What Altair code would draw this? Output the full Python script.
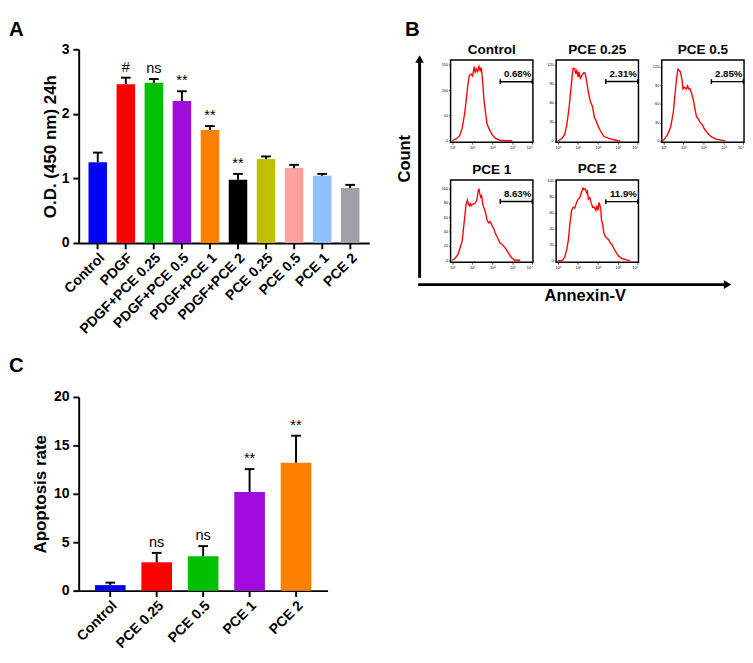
import altair as alt
import pandas as pd

FONT = "Liberation Sans"

panel_letters = ["A", "B", "C"]

# ---------------- Panel A data ----------------
a_groups = ["Control", "PDGF", "PDGF+PCE 0.25", "PDGF+PCE 0.5", "PDGF+PCE 1",
            "PDGF+PCE 2", "PCE 0.25", "PCE 0.5", "PCE 1", "PCE 2"]
a_means = [1.25, 2.46, 2.48, 2.20, 1.75, 0.98, 1.30, 1.16, 1.04, 0.85]
a_err_top = [1.40, 2.56, 2.54, 2.35, 1.81, 1.07, 1.34, 1.21, 1.07, 0.90]
a_colors = ["#0000FF", "#FF0000", "#00C000", "#A20BDE", "#FF8000",
            "#000000", "#BFBF00", "#FFA0A0", "#90C0FF", "#A0A0A8"]
a_marks = ["", "#", "ns", "**", "**", "**", "", "", "", ""]
a_yticks = [0, 1, 2, 3]

# ---------------- Panel C data ----------------
c_groups = ["Control", "PCE 0.25", "PCE 0.5", "PCE 1", "PCE 2"]
c_means = [0.57, 2.93, 3.54, 10.18, 13.2]
c_err_top = [0.83, 3.9, 4.6, 12.55, 16.0]
c_colors = ["#0000FF", "#FF0000", "#00C000", "#A20BDE", "#FF8000"]
c_marks = ["", "ns", "ns", "**", "**"]
c_yticks = [0, 5, 10, 15, 20]

# ---------------- Panel B data (flow histograms, x = log10 Annexin-V) ----------------
h_names = ["Control", "PCE 0.25", "PCE 0.5", "PCE 1", "PCE 2"]
h_pct = ["0.68%", "2.31%", "2.85%", "8.63%", "11.9%"]
h_gate_y = [117, 94, 96, 82, 74]
h_ydom = [[-3, 160], [-2, 128], [-2, 131], [-3, 112], [-2, 101]]
h_yticks = [[0, 50, 100, 150], [0, 30, 60, 90, 120], [0, 30, 60, 90, 120],
            [0, 20, 40, 60, 80, 100], [0, 20, 40, 60, 80, 100]]
gate_x1 = 2.4
gate_x2 = 4.0

ctrl_x = [0, 0.21, 0.37, 0.5, 0.61, 0.69, 0.77, 0.85, 0.94, 1.02, 1.10, 1.15, 1.21, 1.27,
          1.34, 1.40, 1.45, 1.52, 1.58, 1.66, 1.74, 1.85, 1.98, 2.15, 2.39, 2.63, 3.0]
ctrl_y = [0, 4, 10, 25, 51, 77, 106, 129, 132, 128, 147, 136, 142, 137,
          147, 139, 145, 119, 83, 57, 33, 23, 13, 5, 1, 0, 0]
p025_x = [0, 0.21, 0.34, 0.45, 0.56, 0.66, 0.73, 0.77, 0.85, 0.90, 0.95, 1.02, 1.06, 1.13,
          1.21, 1.31, 1.37, 1.45, 1.53, 1.63, 1.74, 1.82, 1.90, 2.02, 2.15, 2.31, 2.55, 2.79, 3.11]
p025_y = [0, 4, 10, 25, 51, 83, 106, 115, 114, 106, 111, 101, 109, 99,
          104, 108, 107, 93, 77, 62, 54, 38, 33, 23, 15, 7, 4, 2, 0]
p05_x = [-0.05, 0.05, 0.21, 0.37, 0.5, 0.58, 0.66, 0.73, 0.79, 0.85, 0.94, 0.98, 1.05, 1.15,
         1.21, 1.27, 1.34, 1.42, 1.5, 1.58, 1.66, 1.74, 1.82, 1.95, 2.06, 2.23, 2.39, 2.63, 2.95, 3.1]
p05_y = [0, 3, 10, 23, 47, 74, 101, 116, 114, 112, 98, 84, 87, 84,
         89, 84, 84, 76, 66, 52, 39, 36, 31, 26, 19, 12, 7, 3, 1, 0]
p1_x = [0, 0.13, 0.29, 0.40, 0.5, 0.56, 0.63, 0.69, 0.76, 0.81, 0.85, 0.90, 0.95, 1.02, 1.10,
        1.18, 1.24, 1.29, 1.34, 1.37, 1.42, 1.47, 1.53, 1.60, 1.66, 1.74, 1.82, 1.90, 1.98,
        2.06, 2.15, 2.27, 2.39, 2.5, 2.63, 2.79, 2.95, 3.11, 3.4]
p1_y = [0, 2, 8, 18, 27, 43, 61, 78, 84, 78, 76, 79, 76, 78, 79,
        81, 85, 96, 100, 94, 88, 90, 78, 72, 67, 56, 52, 54, 49,
        45, 38, 31, 24, 22, 18, 11, 4, 0, 0]
p2_x = [0, 0.21, 0.34, 0.45, 0.53, 0.61, 0.69, 0.77, 0.85, 0.94, 1.02, 1.10, 1.18, 1.26,
        1.31, 1.37, 1.44, 1.48, 1.53, 1.60, 1.66, 1.74, 1.82, 1.90, 1.95, 2.02, 2.06, 2.15,
        2.18, 2.23, 2.31, 2.39, 2.47, 2.55, 2.63, 2.71, 2.79, 2.92, 3.03, 3.19, 3.44, 3.6]
p2_y = [0, 0, 4, 14, 26, 47, 63, 67, 66, 73, 77, 79, 85, 91,
        89, 90, 85, 87, 77, 79, 73, 67, 67, 63, 69, 63, 73, 65,
        51, 47, 34, 30, 28, 26, 22, 20, 16, 10, 6, 3, 1, 0]
h_xs = [ctrl_x, p025_x, p05_x, p1_x, p2_x]
h_ys = [ctrl_y, p025_y, p05_y, p1_y, p2_y]


def letter_mark(letter, dx, dy):
    return alt.Chart(pd.DataFrame({"letter": [letter]})).mark_text(
        align="left", baseline="top", fontSize=21, fontWeight="bold", font=FONT,
        color="black").encode(x=alt.value(dx), y=alt.value(dy), text="letter:N")


# ---------------- helpers ----------------
def bar_panel(groups, means, errs, colors, marks, ymax, yticks, ytitle, width, height,
              letter, letter_dx, letter_dy, title_pad):
    gf = "grp" + letter
    df = pd.DataFrame({gf: groups, "mean": means, "err": errs, "mark": marks})
    xenc = alt.X(gf, type="nominal", sort=groups,
                 scale=alt.Scale(paddingInner=0.34, paddingOuter=0.35),
                 axis=alt.Axis(title=None, labelAngle=-45, labelFontSize=14.5,
                               labelFontWeight="bold", labelColor="black", labelFont=FONT,
                               domainColor="black", domainWidth=2, tickColor="black",
                               tickWidth=2, tickSize=6, labelPadding=2))
    ysc = alt.Scale(domain=[0, ymax], nice=False)
    yax = alt.Axis(values=yticks, title=ytitle, grid=False, domainColor="black",
                   domainWidth=2, tickColor="black", tickWidth=2, tickSize=6,
                   labelFontSize=14.5, labelFontWeight="bold", labelColor="black",
                   labelFont=FONT, labelPadding=4, titleFont=FONT, titleFontSize=17.5,
                   titleFontWeight="bold", titleColor="black", titlePadding=title_pad)

    def ye(field):
        return alt.Y(field, type="quantitative", scale=ysc, axis=yax)

    base = alt.Chart(df).encode(x=xenc)
    bars = base.mark_bar().encode(
        y=ye("mean"),
        color=alt.Color(gf, type="nominal", scale=alt.Scale(domain=groups, range=colors),
                        legend=None))
    err = base.mark_rule(color="black", strokeWidth=2).encode(y=ye("mean"), y2="err")
    cap = base.mark_tick(color="black", thickness=2, size=10, opacity=1).encode(y=ye("err"))
    txt = base.mark_text(baseline="bottom", dy=-3, fontSize=15, font=FONT,
                         color="black").encode(y=ye("err"), text="mark:N")
    return alt.layer(bars, err, cap, txt, letter_mark(letter, letter_dx, letter_dy)).properties(
        width=width, height=height)


def hist_panel(i):
    df = pd.DataFrame({"logx": h_xs[i], "count": h_ys[i]})
    gdf = pd.DataFrame({"x1": [gate_x1], "x2": [gate_x2], "y": [h_gate_y[i]], "label": [h_pct[i]]})
    xsc = alt.Scale(domain=[-0.08, 4.03], nice=False, zero=False)
    ysc = alt.Scale(domain=h_ydom[i], nice=False, zero=False)
    xax = alt.Axis(values=[0, 1, 2, 3, 4],
                   labelExpr="'10' + ['\u2070','\u00b9','\u00b2','\u00b3','\u2074'][datum.value]",
                   title=None, grid=False, domain=False, tickSize=2, tickWidth=0.7,
                   tickColor="black", labelFontSize=4, labelPadding=1, labelColor="black",
                   labelFont=FONT)
    yax = alt.Axis(values=h_yticks[i], title=None, grid=False, domain=False, tickSize=2,
                   tickWidth=0.7, tickColor="black", labelFontSize=4, labelPadding=1,
                   labelColor="black", labelFont=FONT)
    line = alt.Chart(df).mark_line(color="#FF0000", strokeWidth=1.4).encode(
        x=alt.X("logx:Q", scale=xsc, axis=xax), y=alt.Y("count:Q", scale=ysc, axis=yax))
    gate = alt.Chart(gdf).mark_rule(color="black", strokeWidth=1.5).encode(
        x=alt.X("x1:Q", scale=xsc, axis=xax), x2="x2:Q", y=alt.Y("y:Q", scale=ysc, axis=yax))
    ends = alt.Chart(gdf).transform_fold(["x1", "x2"], as_=["end", "xv"]).mark_tick(
        color="black", orient="vertical", size=5, thickness=1.5, opacity=1).encode(
        x=alt.X("xv:Q", scale=xsc, axis=xax), y=alt.Y("y:Q", scale=ysc, axis=yax))
    lab = alt.Chart(gdf).mark_text(align="right", baseline="bottom", dy=-3, dx=-1,
                                   fontSize=10, fontWeight="bold", font=FONT,
                                   color="black").encode(
        x=alt.X("x2:Q", scale=xsc, axis=xax), y=alt.Y("y:Q", scale=ysc, axis=yax),
        text="label:N")
    return alt.layer(line, gate, ends, lab).properties(
        width=85, height=85,
        view=alt.ViewBackground(stroke="black", strokeWidth=1.5),
        title=alt.TitleParams(h_names[i], fontSize=14, fontWeight="bold", font=FONT,
                              color="black", offset=3))


# ---------------- Panel A ----------------
panel_a = bar_panel(a_groups, a_means, a_err_top, a_colors, a_marks, 3, a_yticks,
                    "O.D. (450 nm) 24h", 300, 200, panel_letters[0], -72, -31, 2)

# ---------------- Panel B ----------------
CW, CH = 22, 225
AW = 344
cnt_df = pd.DataFrame({"label": ["Count"]})
cnt_shaft = alt.Chart(cnt_df).mark_rule(color="black", strokeWidth=3).encode(
    x=alt.value(CW - 1), y=alt.value(1), y2=alt.value(CH))
cnt_head = alt.Chart(cnt_df).mark_point(shape="triangle-up", filled=True, size=80,
                                        color="black", opacity=1).encode(
    x=alt.value(CW - 1), y=alt.value(-1))
cnt_text = alt.Chart(cnt_df).mark_text(angle=270, fontSize=17, fontWeight="bold", font=FONT,
                                       color="black").encode(
    x=alt.value(6), y=alt.value(102), text="label:N")
count_chart = alt.layer(cnt_shaft, cnt_head, cnt_text).properties(width=CW, height=CH)

ann_df = pd.DataFrame({"label": ["Annexin-V"]})
ann_shaft = alt.Chart(ann_df).mark_rule(color="black", strokeWidth=3).encode(
    x=alt.value(CW - 2.5), x2=alt.value(AW - 6), y=alt.value(0))
ann_head = alt.Chart(ann_df).mark_point(shape="triangle-right", filled=True, size=80,
                                        color="black", opacity=1).encode(
    x=alt.value(AW - 5), y=alt.value(0))
ann_text = alt.Chart(ann_df).mark_text(baseline="top", fontSize=17, fontWeight="bold",
                                       font=FONT, color="black").encode(
    x=alt.value(192), y=alt.value(4), text="label:N")
annex_chart = alt.layer(ann_shaft, ann_head, ann_text).properties(width=AW, height=22)

b_header = letter_mark(panel_letters[1], 6, -31).properties(width=1, height=1)

row1 = alt.hconcat(hist_panel(0), hist_panel(1), hist_panel(2), spacing=12)
row2 = alt.hconcat(hist_panel(3), hist_panel(4), spacing=12)
grid = alt.vconcat(row1, row2, spacing=12)
inner_b = alt.vconcat(alt.hconcat(count_chart, grid, spacing=16), annex_chart, spacing=0)
panel_b = alt.vconcat(b_header, inner_b, spacing=-9)

# ---------------- Panel C ----------------
panel_c = bar_panel(c_groups, c_means, c_err_top, c_colors, c_marks, 20, c_yticks,
                    "Apoptosis rate", 257, 200, panel_letters[2], -72, -43, 4)

chart = alt.vconcat(alt.hconcat(panel_a, panel_b, spacing=26), panel_c, spacing=18).properties(
    padding=0, background="white"
).resolve_scale(color="independent").configure_view(stroke="transparent")

chart.save("out.html", embed_options={"renderer": "svg", "actions": False})
